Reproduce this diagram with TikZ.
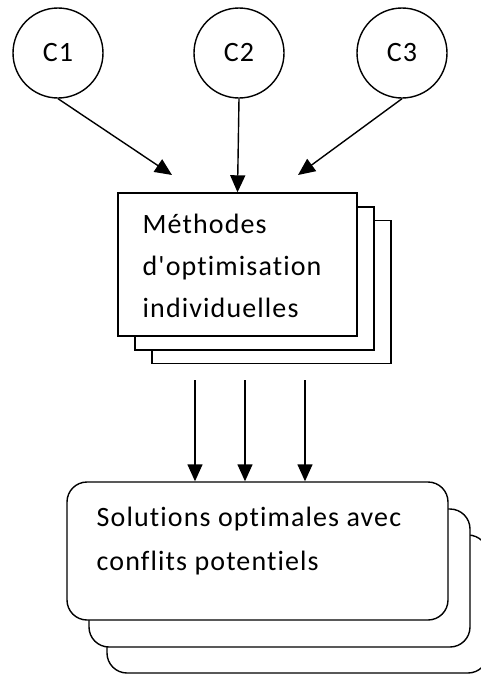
\documentclass[tikz,border=0pt]{standalone}
\usepackage{fontspec}
\setmainfont{Carlito}[Ligatures={TeXOff,NoCommon}, RawFeature={-liga;-dlig}, LetterSpace=4]
\usetikzlibrary{arrows.meta}
\begin{document}
\begin{tikzpicture}[x=1pt,y=-1pt,
  line width=1.4pt,
  crit/.style={draw, circle, minimum size=90pt, inner sep=0pt, font=\fontsize{28}{30}\selectfont},
  sheet/.style={draw, fill=white, rectangle, minimum width=239pt, minimum height=143pt, inner sep=0pt},
  rsheet/.style={draw, fill=white, rectangle, rounded corners=20pt, minimum width=381pt, minimum height=138pt, inner sep=0pt},
  label/.style={anchor=north west, align=left, inner sep=0pt},
  link/.style={-{Triangle[length=17pt,width=15pt]}}]
\useasboundingbox (0,0) rectangle (481,675);
\clip (0,0) rectangle (481,675);
% criteria
\node[crit] (c1) at (58,53) {C1};
\node[crit] (c2) at (239,53) {C2};
\node[crit] (c3) at (402,53) {C3};
% stacked method sheets
\node[sheet] (m3) at (271.5,292) {};
\node[sheet] (m2) at (254.5,278.5) {};
\node[sheet] (m1) at (237.5,264.5) {};
\node[label, font=\fontsize{28}{42}\selectfont] (mt) at (142,213) {Méthodes\\d'optimisation\\individuelles};
% stacked solution sheets
\node[rsheet] (s3) at (297.5,604) {};
\node[rsheet] (s2) at (279.5,578) {};
\node[rsheet] (s1) at (257.5,551) {};
\node[label, font=\fontsize{28}{44}\selectfont] (st) at (96,506) {Solutions optimales avec\\conflits potentiels};
% connectors
\coordinate (e1) at (172,175);
\coordinate (e3) at (298,175);
\draw[link] (c1.south) -- (e1);
\draw[link] (c2.south) -- (m1.north);
\draw[link] (c3.south) -- (e3);
\coordinate (b1) at (195,380);
\coordinate (b2) at (245,380);
\coordinate (b3) at (305,380);
\draw[link] (b1) -- (b1 |- s1.north);
\draw[link] (b2) -- (b2 |- s1.north);
\draw[link] (b3) -- (b3 |- s1.north);
\end{tikzpicture}
\end{document}
